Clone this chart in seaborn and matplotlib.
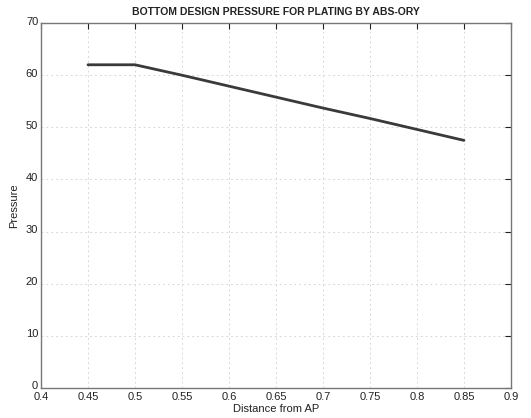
import numpy as np
import matplotlib
matplotlib.use('Agg')
import matplotlib.pyplot as plt
import matplotlib.transforms as mtransforms
import seaborn as sns
import pandas as pd

# Data
distance = [0.45, 0.50, 0.55, 0.60, 0.65, 0.70, 0.75, 0.80, 0.85]
pressure = [62.0, 62.0, 60.0, 57.9, 55.8, 53.7, 51.7, 49.6, 47.5]

x_ticks = [0.4, 0.45, 0.5, 0.55, 0.6, 0.65, 0.7, 0.75, 0.8, 0.85, 0.9]
x_labels = ['0.4', '0.45', '0.5', '0.55', '0.6', '0.65', '0.7', '0.75', '0.8', '0.85', '0.9']
y_ticks = [0, 10, 20, 30, 40, 50, 60, 70]

df = pd.DataFrame({'Distance from AP': distance, 'Pressure': pressure})

sns.set_theme(style="white")
plt.rcParams['font.family'] = ['Liberation Sans', 'DejaVu Sans']

fig = plt.figure(figsize=(5.31, 4.18), dpi=100)
ax = fig.add_axes([0.0772, 0.0718, 0.885, 0.873])

sns.lineplot(data=df, x='Distance from AP', y='Pressure', ax=ax,
             color='#3a3a3a', linewidth=2.0, sort=False)

ax.set_xlim(0.4, 0.9)
ax.set_ylim(0, 70)
ax.set_xticks(x_ticks)
ax.set_xticklabels(x_labels)
ax.set_yticks(y_ticks)

ax.grid(True, linestyle=(0, (2, 3)), color='#d8d8d8', linewidth=0.7)
ax.tick_params(direction='in', length=4, width=0.8, colors='#222222',
               labelsize=8, top=True, right=True)
ax.tick_params(axis='x', pad=3)
ax.tick_params(axis='y', pad=2)
for s in ax.spines.values():
    s.set_color('#777777')
    s.set_linewidth(1.0)

# y tick labels sit slightly above their ticks, like the MATLAB original
shift = mtransforms.ScaledTranslation(0, 2.5 / 100, fig.dpi_scale_trans)
for lbl in ax.get_yticklabels():
    lbl.set_transform(lbl.get_transform() + shift)

ax.set_xlabel('Distance from AP', fontsize=8, labelpad=1, color='#222222')
ax.set_ylabel('Pressure', fontsize=8, labelpad=5, color='#222222')
ax.set_title('BOTTOM DESIGN PRESSURE FOR PLATING BY ABS-ORY',
             fontsize=7.5, fontweight='bold', pad=6, color='#222222')

fig.savefig('out.png', dpi=100)
